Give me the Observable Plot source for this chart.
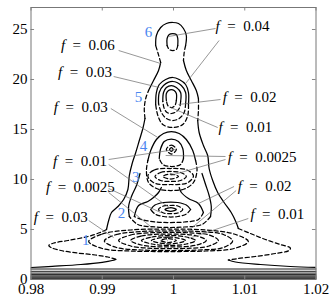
<!DOCTYPE html>
<html><head><meta charset="utf-8">
<script src="https://cdn.jsdelivr.net/npm/d3@7"></script>
<script src="https://cdn.jsdelivr.net/npm/@observablehq/plot@0.6"></script>
<style>body{margin:0;background:#fff} svg text{font-family:"Liberation Serif","DejaVu Serif",serif !important;}</style>
</head><body><div id="chart"></div>
<script>
// Axis ticks
const xTicks = [0.98, 0.99, 1, 1.01, 1.02];
const yTicks = [0, 5, 10, 15, 20, 25];

// Contour points, as [u, y] with u = (x - 1) * 1e4
const bandLevels = [1.05, 0.82, 0.64, 0.49, 0.36, 0.25, 0.15, 0.06];

const outerSolid = [
  [[-200,1.2],[-170,1.32],[-130,1.5],[-100,1.72],[-86,1.9],[-81,2.02]],
  [[-94,5.0],[-91,5.9],[-87,6.7],[-78,7.3],[-70,8.0],[-64,9.0],[-62,10.4],[-58,11.6],[-53,12.7],[-48,13.9],[-43,15.1],[-40,16.1]],
  [[-35,18.9],[-28,19.9],[-21,20.9],[-18,21.7]],
  [[-25,23.4],[-24,24.4],[-18,25.2],[-10,25.6],[-1,25.7],[7,25.6],[14,25.1],[18,24.4],[17,23.4]],
  [[14,21.9],[18,20.9],[25,19.9],[32,18.9],[35,18.1]],
  [[34,15.9],[36,14.7],[42,13.4],[48,12.4],[50,11.1],[55,9.9],[62,8.7],[71,7.7],[81,6.7],[88,5.7],[91,5.1]],
  [[77,1.95],[87,1.75],[122,1.5],[164,1.3],[200,1.2]]
];
const outerDashed = [
  [[-81,2.02],[-92,2.25],[-110,2.45],[-135,2.65],[-158,2.9],[-172,3.2],[-175,3.4],[-168,3.65],[-148,3.9],[-120,4.3],[-103,4.7],[-94,5.0]],
  [[-40,16.1],[-41,17.1],[-39,18.1],[-35,18.9]],
  [[-18,21.7],[-22,22.7],[-25,23.4]],
  [[17,23.4],[15,22.7],[14,21.9]],
  [[35,18.1],[35,16.9],[34,15.9]],
  [[91,5.1],[108,4.6],[129,4.0],[150,3.5],[164,3.15],[162,2.9],[143,2.6],[115,2.3],[91,2.1],[77,1.95]]
];

// open solid arcs inside the tower
const innerSolid = [
  [[-9,23.4],[-9,24.1],[-6,24.5],[-1,24.6],[4,24.5],[6,24.1],[6,23.4]],
  [[-25,17.5],[-24,18.7],[-20,19.5],[-11,20.0],[-1,20.2],[8,20.0],[17,19.5],[21,18.7],[21,17.5]],
  [[-21,17.6],[-20,18.7],[-14,19.4],[-1,19.8],[11,19.4],[17,18.7],[17,17.6]],
  [[-15,17.8],[-14,18.7],[-10,19.2],[-3,19.4],[4,19.2],[10,18.7],[10,17.8]],
  [[-10,17.9],[-10,18.6],[-7,18.9],[-3,19.0],[1,18.9],[4,18.6],[4,17.9]],
  [[-36,11.9],[-32,12.9],[-24,14.0],[-14,14.6],[-3,14.8],[8,14.6],[18,14.0],[27,12.9],[31,11.9]],
  [[-20,12.1],[-18,13.1],[-13,13.8],[-3,14.05],[7,13.8],[13,13.1],[14,12.1]],
  [[-32,7.0],[-26,7.45],[-14,7.7],[-4,7.75],[6,7.7],[18,7.45],[24,7.0]],
  [[-55,6.3],[-49,7.4],[-36,7.8],[-28,8.2],[-21,8.7],[-17,9.2]],
  [[8,9.2],[11,8.7],[21,8.1],[35,7.6],[42,6.7]],
  [[-62,6.3],[-63,7.3],[-59,8.3],[-52,9.4],[-47,10.6]],
  [[40,10.6],[45,9.5],[50,8.4],[53,7.3],[52,6.3]]
];
const innerDashed = [
  [[6,23.4],[4,23.0],[-1,22.9],[-6,23.0],[-9,23.4]],
  [[21,17.5],[20,16.4],[13,15.5],[-1,15.2],[-15,15.5],[-22,16.4],[-25,17.5]],
  [[17,17.6],[15,16.7],[8,16.1],[-1,15.9],[-10,16.1],[-17,16.7],[-21,17.6]],
  [[10,17.8],[8,17.1],[2,16.7],[-3,16.6],[-9,16.7],[-13,17.1],[-15,17.8]],
  [[4,17.9],[2,17.4],[-3,17.2],[-8,17.4],[-10,17.9]],
  [[31,11.9],[33,10.9],[28,9.7],[15,9.05],[-3,8.9],[-22,9.05],[-35,9.7],[-38,10.9],[-36,11.9]],
  [[14,12.1],[10,11.5],[-3,11.3],[-15,11.5],[-20,12.1]],
  [[24,7.0],[18,6.55],[6,6.3],[-4,6.25],[-14,6.3],[-26,6.55],[-32,7.0]],
  [[42,6.7],[35,6.0],[15,5.75],[-4,5.7],[-25,5.75],[-45,6.0],[-55,6.3]],
  [[52,6.3],[40,5.5],[15,5.25],[-4,5.2],[-25,5.25],[-50,5.5],[-62,6.3]]
];

// closed loops
const solidLoops = [
  [[-5.5,13.0],[-3,13.18],[-0.5,13.0],[-3,12.82]],
  [[-12,7.0],[-4,7.18],[4,7.0],[-4,6.82]]
];
const dashedLoops = [
  [[-10,13.0],[-3,13.45],[4,13.0],[-3,12.55]],
  [[-15,10.3],[-4,10.55],[7,10.3],[-4,10.05]],
  [[-26,10.3],[-18,10.7],[-4,10.8],[10,10.7],[18,10.3],[10,9.9],[-4,9.8],[-18,9.9]],
  [[-36,10.35],[-27,10.95],[-4,11.1],[19,10.95],[28,10.35],[19,9.65],[-4,9.5],[-27,9.65]],
  [[-21,7.0],[-14,7.35],[-4,7.4],[6,7.35],[13,7.0],[6,6.65],[-4,6.6],[-14,6.65]],
  [[-119,3.8],[-100,4.55],[-60,4.95],[-7,5.05],[45,4.95],[85,4.55],[105,3.8],[85,3.1],[45,2.85],[-7,2.8],[-60,2.85],[-100,3.1]],
  [[-97,3.85],[-80,4.5],[-45,4.8],[-7,4.85],[35,4.8],[70,4.5],[83,3.85],[70,3.2],[35,2.95],[-7,2.9],[-45,2.95],[-80,3.2]],
  [[-77,3.9],[-60,4.45],[-30,4.68],[-7,4.7],[20,4.68],[50,4.45],[63,3.9],[50,3.35],[20,3.12],[-7,3.1],[-30,3.12],[-60,3.35]],
  [[-60,3.9],[-45,4.35],[-7,4.55],[33,4.35],[46,3.9],[33,3.45],[-7,3.25],[-45,3.45]],
  [[-45,3.9],[-30,4.25],[-7,4.4],[18,4.25],[31,3.9],[18,3.55],[-7,3.4],[-30,3.55]],
  [[-31,3.9],[-7,4.25],[17,3.9],[-7,3.55]],
  [[-18,3.9],[-7,4.1],[4,3.9],[-7,3.7]]
];

// annotations f = ...
const annU = [-158, -162, -168, 59, 69, 63, -169, 76, -179, 90, -196, 108];
const annY = [23.4, 20.7, 17.2, 25.3, 18.2, 15.2, 11.8, 12.2, 9.2, 9.3, 6.2, 6.5];
const annText = ["0.06","0.03","0.03","0.04","0.02","0.01","0.01","0.0025","0.0025","0.02","0.03","0.01"];
// leader lines [u1, y1, u2, y2]
const leaders = [
  [-77,22.9,-18,21.6],
  [-84,20.3,-20,19.2],
  [-88,17.1,-22,14.2],
  [59,25.1,-7,24.3],
  [64,23.9,17,19.6],
  [66,18.0,7,17.5],
  [62,15.2,-4,17.2],
  [-91,12.0,3,13.0],
  [-91,11.5,-4,7.1],
  [73,12.3,-11,12.4],
  [73,12.0,-4,10.4],
  [-91,9.1,-18,6.7],
  [-91,8.7,-8,3.9],
  [85,9.3,35,7.6],
  [88,8.9,18,4.7],
  [-119,5.9,-84,4.2],
  [105,6.1,21,4.1]
];
// blue mode numbers
const modeText = ["1","2","3","4","5","6"];
const modeU = [-123, -73, -53, -42, -49, -35];
const modeY = [3.9, 6.6, 10.2, 13.3, 18.2, 24.7];

const toX = u => 1 + u / 1e4;
function rows(curves, prefix) {
  const out = [];
  curves.forEach((c, i) => c.forEach(([u, y]) => out.push({x: toX(u), y, id: prefix + i})));
  return out;
}
const bandRows = [];
bandLevels.forEach((lv, i) => { bandRows.push({x: 0.98, y: lv, id: "b"+i}); bandRows.push({x: 1.02, y: lv, id: "b"+i}); });

const FONT = "Liberation Serif";
const dash = "4,2.6";
const sw = 1.25;
const ann = annText.map((t, i) => ({x: toX(annU[i]), y: annY[i], t: "f\u2002=\u2002" + t}));
const lead = leaders.map(([a,b,c,d]) => ({x1: toX(a), y1: b, x2: toX(c), y2: d}));
const modes = modeText.map((t, i) => ({x: toX(modeU[i]), y: modeY[i], t}));

const chart = Plot.plot({
  width: 329, height: 300,
  marginLeft: 30.5, marginRight: 13.5, marginTop: 7, marginBottom: 21,
  x: {domain: [0.98, 1.02], axis: null},
  y: {domain: [0, 27.2], axis: null},
  style: {fontFamily: FONT, fontSize: "15px", background: "white", overflow: "visible"},
  marks: [
    Plot.line(bandRows, {x: "x", y: "y", z: "id", stroke: "black", strokeWidth: 0.9}),
    Plot.line(rows(outerSolid, "os"), {x: "x", y: "y", z: "id", curve: "catmull-rom", stroke: "black", strokeWidth: sw, clip: true}),
    Plot.line(rows(outerDashed, "od"), {x: "x", y: "y", z: "id", curve: "catmull-rom", stroke: "black", strokeWidth: sw, strokeDasharray: dash, clip: true}),
    Plot.line(rows(innerSolid, "is"), {x: "x", y: "y", z: "id", curve: "catmull-rom", stroke: "black", strokeWidth: sw}),
    Plot.line(rows(innerDashed, "id"), {x: "x", y: "y", z: "id", curve: "catmull-rom", stroke: "black", strokeWidth: sw, strokeDasharray: dash}),
    Plot.line(rows(solidLoops, "sl"), {x: "x", y: "y", z: "id", curve: "catmull-rom-closed", stroke: "black", strokeWidth: sw}),
    Plot.line(rows(dashedLoops, "dl"), {x: "x", y: "y", z: "id", curve: "catmull-rom-closed", stroke: "black", strokeWidth: sw, strokeDasharray: dash}),
    Plot.link(lead, {x1: "x1", y1: "y1", x2: "x2", y2: "y2", stroke: "#6a6a6a", strokeWidth: 0.7}),
    Plot.text(ann, {x: "x", y: "y", text: "t", textAnchor: "start", lineAnchor: "middle", fill: "black", fontSize: 15, fontFamily: FONT}),
    Plot.text(modes, {x: "x", y: "y", text: "t", textAnchor: "middle", lineAnchor: "middle", fill: "#4a86f0", fontSize: 15, fontFamily: FONT}),
    Plot.ruleX(xTicks, {x: d => d, y1: 0, y2: 0.35, stroke: "#888"}),
    Plot.ruleX(xTicks, {x: d => d, y1: 27.2, y2: 26.85, stroke: "#888"}),
    Plot.ruleY(yTicks, {y: d => d, x1: 0.98, x2: 0.9805, stroke: "#888"}),
    Plot.ruleY(yTicks, {y: d => d, x1: 1.0195, x2: 1.02, stroke: "#888"}),
    Plot.text(xTicks, {x: d => d, y: 0, dy: 10, text: d => String(d), lineAnchor: "middle", fill: "black", fontSize: 15, fontFamily: FONT}),
    Plot.text(yTicks, {x: 0.98, y: d => d, dx: -3.5, text: d => String(d), textAnchor: "end", lineAnchor: "middle", fill: "black", fontSize: 15, fontFamily: FONT}),
    Plot.frame({stroke: "#777", strokeWidth: 1})
  ]
});
chart.setAttribute("font-family", FONT);
document.getElementById("chart").appendChild(chart);
d3.select(chart).selectAll("text").each(function() {
  const s = this.textContent;
  if (s.startsWith("f\u2002")) {
    const sel = d3.select(this);
    sel.text(null);
    sel.append("tspan").attr("font-style", "italic").text("f");
    sel.append("tspan").text(s.slice(1));
  }
});
</script>
</body></html>
